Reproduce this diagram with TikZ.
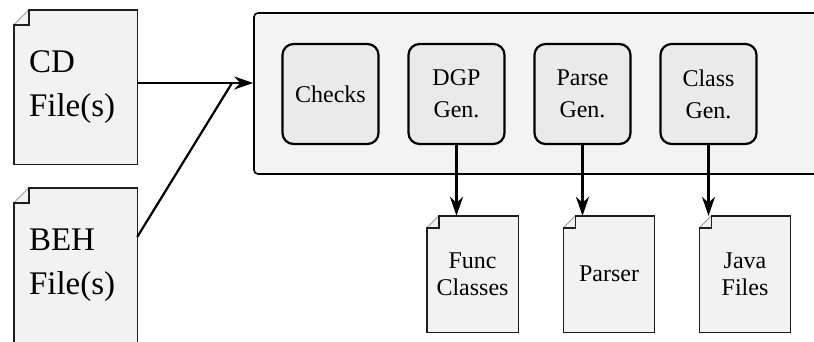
\documentclass[tikz,border=0pt]{standalone}
\usepackage{fontspec}
\setmainfont{Liberation Serif}
\newfontfamily\timesfont{Liberation Serif}
\usetikzlibrary{arrows.meta,calc,backgrounds}
\definecolor{docgray}{RGB}{242,242,242}
\definecolor{toolgray}{RGB}{243,243,243}
\definecolor{stagegray}{RGB}{234,234,234}
\definecolor{edgegray}{RGB}{30,30,30}
% document outline with a folded top-left corner
\newcommand{\docoutline}[2]{%
    \fill[docgray] (#1.south west) -- ($(#1.north west)+(0,#2)$) -- ($(#1.north west)+(#2,0)$)
        -- (#1.north east) -- (#1.south east) -- cycle;
    \draw[black!45, line width=0.7pt] ($(#1.north west)+(0,#2)$) -- ($(#1.north west)+(#2,0)$);
    \draw[edgegray, line width=1.4pt] (#1.south west) -- ($(#1.north west)+(0,#2)$) -- ($(#1.north west)+(#2,#2)$)
        -- ($(#1.north west)+(#2,0)$) -- (#1.north east) -- (#1.south east) -- cycle;
}
\begin{document}
\begin{tikzpicture}[x=1pt,y=-1pt]
    \def\bx{126}
    \def\by{94}
    \def\ox{330.5}
    \def\oy{274}

    \tikzstyle{infile}=[text width=93pt,align=left,inner xsep=15pt,inner ysep=0pt,minimum height=154pt,font=\timesfont\fontsize{33}{44}\selectfont]
    \tikzstyle{outfile}=[text width=91pt,align=center,inner sep=0pt,minimum height=116pt,font=\timesfont\fontsize{24}{27}\selectfont]
    \tikzstyle{toolbox}=[draw=black,line width=1.6pt,fill=toolgray,rounded corners=4pt,minimum width=576pt,minimum height=161pt]
    \tikzstyle{stage}=[draw=black,line width=2.2pt,fill=stagegray,rounded corners=11pt,text width=96pt,align=center,inner sep=0pt,minimum height=100pt,font=\timesfont\fontsize{24}{32}\selectfont]
    \tikzstyle{fwd}=[draw=black,line width=2.2pt,-{Stealth[length=19pt,width=13pt,inset=6pt]}]
    \tikzstyle{feed}=[draw=black,line width=2.2pt]

    \useasboundingbox (0,0) rectangle (814,341);

    \node[infile] (cd) at (75.5,87) {CD\\File(s)};
    \node[infile] (beh) at (75.5,265) {BEH\\File(s)};

    \node[toolbox] (tool) at (542,93.5) {};
    \node[stage] (chk) at (\ox+0*\bx,\by) {Checks};
    \node[stage] (dgp) at (\ox+1*\bx,\by) {DGP\\Gen.};
    \node[stage] (prs) at (\ox+2*\bx,\by) {Parse\\Gen.};
    \node[stage] (cls) at (\ox+3*\bx,\by) {Class\\Gen.};

    \node[outfile] (func) at (472.5,\oy) {Func\\Classes};
    \node[outfile] (parser) at (609,\oy) {Parser};
    \node[outfile] (java) at (745,\oy) {Java\\Files};

    \begin{scope}[on background layer]
        \docoutline{cd}{15}
        \docoutline{beh}{15}
        \docoutline{func}{12}
        \docoutline{parser}{12}
        \docoutline{java}{12}
    \end{scope}

    \coordinate (join) at (232,83);
    \coordinate (behout) at (beh.east |- 0,237);

    \draw [fwd] (cd.east |- join) -- (tool.west |- join);
    \draw [feed] (behout) -- (join);

    \draw [fwd] (dgp.south) -- (dgp.south |- func.north);
    \draw [fwd] (prs.south) -- (prs.south |- parser.north);
    \draw [fwd] (cls.south) -- (cls.south |- java.north);
\end{tikzpicture}
\end{document}
